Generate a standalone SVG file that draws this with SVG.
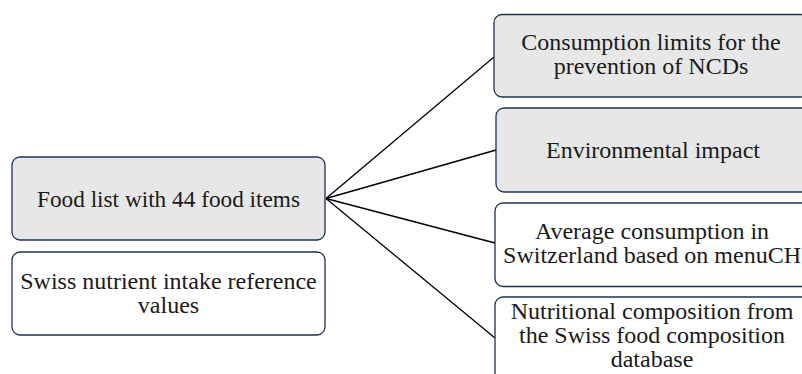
<svg xmlns="http://www.w3.org/2000/svg" width="802" height="374" viewBox="0 0 802 374">
  <style>
    .box { stroke: #1f3350; stroke-width: 1.3; }
    .grey { fill: #e7e7e7; }
    .white { fill: #ffffff; }
    .lbl { font-family: "Liberation Serif", "Times New Roman", serif; font-size: 24px; fill: #1a1a1a; text-anchor: middle; }
    .edge { stroke: #000000; stroke-width: 1.3; fill: none; }
  </style>
  <rect width="802" height="374" fill="#ffffff"/>

  <!-- connectors fanning out from the food list -->
  <g id="connectors">
    <line class="edge" x1="326" y1="198.5" x2="494" y2="57"/>
    <line class="edge" x1="326" y1="198.5" x2="496" y2="150"/>
    <line class="edge" x1="326" y1="198.5" x2="495" y2="243"/>
    <line class="edge" x1="326" y1="198.5" x2="495" y2="338"/>
  </g>

  <g id="food-list">
    <rect class="box grey" x="12" y="157" width="313" height="83" rx="8"/>
    <text class="lbl" x="168.5" y="206.5" textLength="263" lengthAdjust="spacingAndGlyphs">Food list with 44 food items</text>
  </g>

  <g id="nutrient-reference">
    <rect class="box white" x="12" y="252" width="313" height="83" rx="8"/>
    <text class="lbl" x="168.5" y="289">Swiss nutrient intake reference</text>
    <text class="lbl" x="168.5" y="313">values</text>
  </g>

  <g id="consumption-limits">
    <rect class="box grey" x="494" y="14.5" width="315" height="82.5" rx="8"/>
    <text class="lbl" x="651" y="50">Consumption limits for the</text>
    <text class="lbl" x="651" y="74">prevention of NCDs</text>
  </g>

  <g id="environmental-impact">
    <rect class="box grey" x="496" y="108" width="315" height="84" rx="8"/>
    <text class="lbl" x="653" y="158">Environmental impact</text>
  </g>

  <g id="average-consumption">
    <rect class="box white" x="495" y="203" width="315" height="83.5" rx="8"/>
    <text class="lbl" x="652" y="239">Average consumption in</text>
    <text class="lbl" x="652" y="263">Switzerland based on menuCH</text>
  </g>

  <g id="nutritional-composition">
    <rect class="box white" x="495" y="297" width="315" height="90" rx="8"/>
    <text class="lbl" x="652" y="319">Nutritional composition from</text>
    <text class="lbl" x="652" y="343">the Swiss food composition</text>
    <text class="lbl" x="652" y="367">database</text>
  </g>
</svg>
